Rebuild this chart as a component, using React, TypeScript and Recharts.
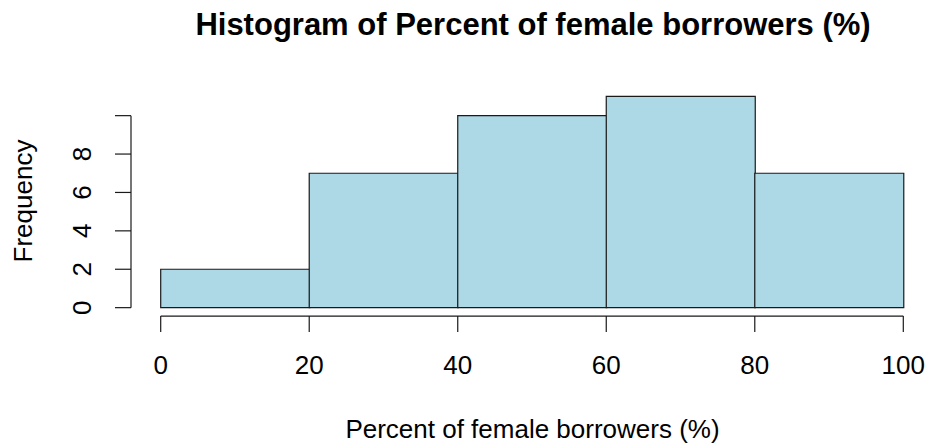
import React from "react";
import { BarChart, Bar, XAxis, YAxis, ReferenceLine } from "recharts";

// histogram bins (percent of female borrowers) and their counts
const binStarts = [0, 20, 40, 60, 80];
const binEnds = [20, 40, 60, 80, 100];
const counts = [2, 7, 10, 11, 7];
const xTicks = [0, 20, 40, 60, 80, 100];
const yTicks = [0, 2, 4, 6, 8, 10];

const title = "Histogram of Percent of female borrowers (%)";
const xTitle = "Percent of female borrowers (%)";
const yTitle = "Frequency";

const data = binStarts.map((s, i) => ({ mid: (s + binEnds[i]) / 2, count: counts[i] }));

const FONT = "'Liberation Sans', Arial, Helvetica, sans-serif";
const INK = "#1a1a1a";

// base-R style: axis range padded by 4% on each side
const xDomain: [number, number] = [-4, 104];
const yDomain: [number, number] = [-0.44, 11.44];

function YTick(props: any) {
  const { x, y, payload } = props;
  // R drops the top label when it would collide with its neighbour
  if (payload.value === 10) return null;
  return (
    <text x={x} y={y} transform={`rotate(-90, ${x}, ${y})`} textAnchor="middle" fontSize={26} fontFamily={FONT} fill="#000">
      {payload.value}
    </text>
  );
}

export default function App() {
  return (
    <div style={{ position: "absolute", left: 0, top: 0, width: 928, height: 445, overflow: "hidden", background: "#fff" }}>
      <BarChart width={933} height={445} data={data} margin={{ top: 88, right: 0, bottom: 68.9, left: 0 }} barCategoryGap={0} barGap={0}>
        <XAxis
          dataKey="mid"
          type="number"
          domain={xDomain}
          ticks={xTicks}
          interval={0}
          axisLine={false}
          tickSize={16}
          tickMargin={23.5}
          tickLine={{ stroke: INK, strokeWidth: 1.2 }}
          tick={{ fontSize: 26, fontFamily: FONT, fill: "#000" }}
          height={60}
        />
        <YAxis
          type="number"
          domain={yDomain}
          ticks={yTicks}
          interval={0}
          allowDataOverflow
          axisLine={false}
          width={131}
          tickSize={16}
          tickMargin={24.3}
          tickLine={{ stroke: INK, strokeWidth: 1.2 }}
          tick={<YTick />}
        />
        <Bar dataKey="count" fill="#ADD8E6" stroke={INK} strokeWidth={1.2} isAnimationActive={false} />
        <ReferenceLine segment={[{ x: 0, y: yDomain[0] }, { x: 100, y: yDomain[0] }]} stroke={INK} strokeWidth={1.2} ifOverflow="visible" />
        <ReferenceLine segment={[{ x: xDomain[0], y: 0 }, { x: xDomain[0], y: 10 }]} stroke={INK} strokeWidth={1.2} ifOverflow="visible" />
      </BarChart>
      <svg width={928} height={445} style={{ position: "absolute", left: 0, top: 0, pointerEvents: "none" }}>
        <text x={533} y={35} textAnchor="middle" fontSize={31} fontWeight="bold" fontFamily={FONT} fill="#000">
          {title}
        </text>
        <text x={532.5} y={438} textAnchor="middle" fontSize={26} fontFamily={FONT} fill="#000">
          {xTitle}
        </text>
        <text x={31.5} y={201} transform="rotate(-90, 31.5, 201)" textAnchor="middle" fontSize={26} fontFamily={FONT} fill="#000">
          {yTitle}
        </text>
      </svg>
    </div>
  );
}
